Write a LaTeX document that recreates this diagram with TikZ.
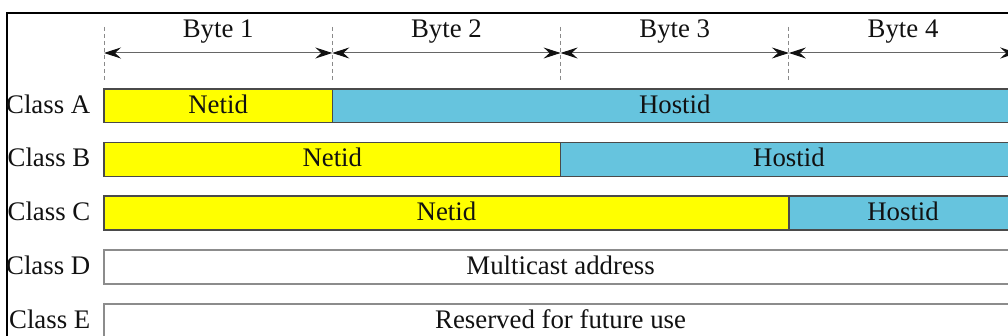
\documentclass[tikz,border=0pt]{standalone}
\usepackage{fontspec}
\setmainfont{Liberation Serif}
\usetikzlibrary{arrows.meta}
\definecolor{netfill}{HTML}{FFFF00}
\definecolor{hostfill}{HTML}{66C4DE}
\definecolor{barline}{HTML}{4A4A4A}
\definecolor{plainline}{HTML}{8C8C8C}
\definecolor{guide}{HTML}{8A8A8A}
\definecolor{inkcol}{HTML}{111111}
\tikzset{
  x=1pt, y=-1pt,
  labeltext/.style={font=\fontsize{26.8}{30}\selectfont, text=inkcol, inner sep=0pt},
  field/.style={labeltext, draw=barline, line width=1.5pt, minimum height=33.7pt,
    text height=15pt, text depth=0pt},
  netfield/.style={field, fill=netfill},
  hostfield/.style={field, fill=hostfill},
  plainfield/.style={field, draw=plainline, fill=white},
  classlabel/.style={labeltext, anchor=base east},
  bytelabel/.style={labeltext, anchor=base},
  guideline/.style={draw=guide, line width=1pt, dash pattern=on 4pt off 3pt},
  bytearrow/.style={draw=black!60, line width=1pt,
    {Stealth[length=17pt,width=11pt,inset=6pt,color=inkcol]}-{Stealth[length=17pt,width=11pt,inset=6pt,color=inkcol]}},
  frameline/.style={draw=black, line width=2pt}
}
\begin{document}
\begin{tikzpicture}
\useasboundingbox (0,0) rectangle (1008,336);
\clip (0,0) rectangle (1008,336);

% outer frame (runs past the right and bottom edges)
\draw[frameline] (7.3,12.7) rectangle (1040,370);

% byte boundaries
\foreach \i/\x in {0/104,1/332.3,2/560.6,3/788.9,4/1017.2}{
  \coordinate (gt\i) at (\x,27);
  \coordinate (gb\i) at (\x,82);
  \coordinate (gm\i) at (\x,53);
  \draw[guideline] (gt\i) -- (gb\i);
}

% byte spans
\foreach \a/\b in {0/1,1/2,2/3,3/4}{
  \draw[bytearrow] (gm\a) -- (gm\b);
}
\node[bytelabel] (byte1) at (218.15,37.3) {Byte 1};
\node[bytelabel] (byte2) at (446.45,37.3) {Byte 2};
\node[bytelabel] (byte3) at (674.75,37.3) {Byte 3};
\node[bytelabel] (byte4) at (903.05,37.3) {Byte 4};

% Class A
\node[netfield, minimum width=228.3pt] (aNet) at (218.15,105.8) {Netid};
\node[hostfield, minimum width=684.9pt] (aHost) at (674.75,105.8) {Hostid};
\node[classlabel] (aLab) at (90.5,113.3) {Class A};

% Class B
\node[netfield, minimum width=456.6pt] (bNet) at (332.3,159.5) {Netid};
\node[hostfield, minimum width=456.6pt] (bHost) at (788.9,159.5) {Hostid};
\node[classlabel] (bLab) at (90.5,167) {Class B};

% Class C
\node[netfield, minimum width=684.9pt] (cNet) at (446.45,213) {Netid};
\node[hostfield, minimum width=228.3pt] (cHost) at (903.05,213) {Hostid};
\node[classlabel] (cLab) at (90.5,220.5) {Class C};

% Class D
\node[plainfield, minimum width=913.2pt] (dAll) at (560.6,267) {Multicast address};
\node[classlabel] (dLab) at (90.5,274.5) {Class D};

% Class E
\node[plainfield, minimum width=913.2pt] (eAll) at (560.6,321) {Reserved for future use};
\node[classlabel] (eLab) at (90.5,328.5) {Class E};
\end{tikzpicture}
\end{document}
